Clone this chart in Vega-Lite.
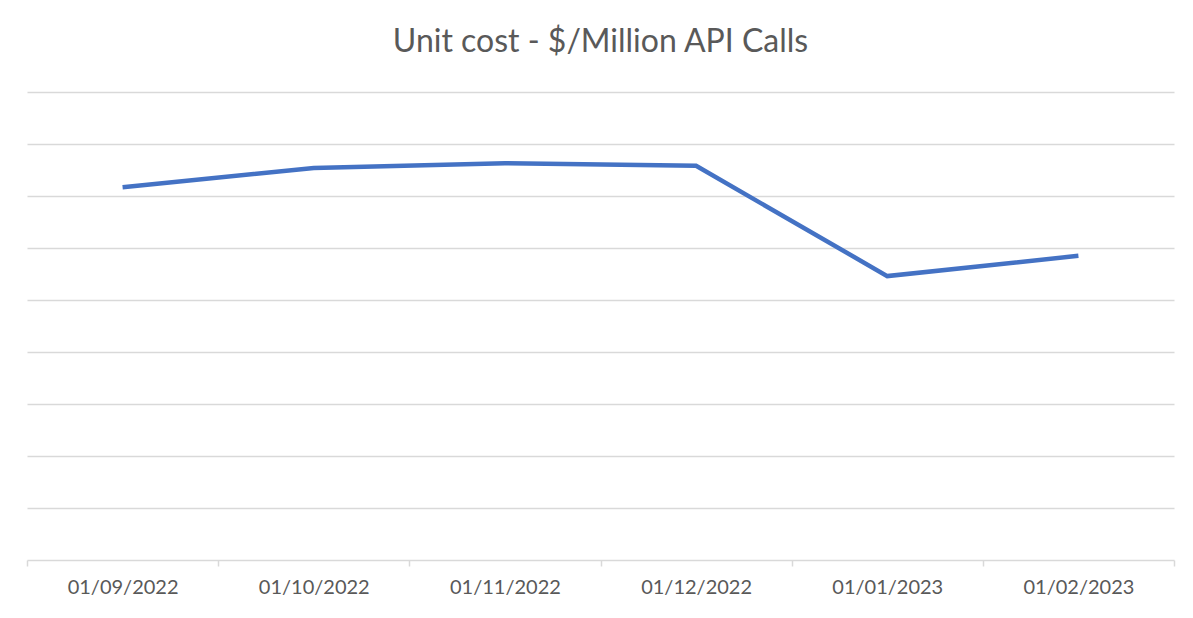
{
  "$schema": "https://vega.github.io/schema/vega-lite/v6.json",
  "width": 1147,
  "height": 468,
  "autosize": "none",
  "padding": {"left": 27, "top": 92, "right": 19, "bottom": 58},
  "background": "white",
  "config": {"view": {"stroke": null}, "font": "Lato"},
  "title": {
    "text": "Unit cost - $/Million API Calls",
    "fontSize": 32,
    "font": "Lato",
    "fontWeight": "normal",
    "color": "#595959",
    "anchor": "middle",
    "offset": 33
  },
  "data": {
    "values": [
      {"date": "01/09/2022", "cost": 7.17},
      {"date": "01/10/2022", "cost": 7.54},
      {"date": "01/11/2022", "cost": 7.63},
      {"date": "01/12/2022", "cost": 7.58},
      {"date": "01/01/2023", "cost": 5.46},
      {"date": "01/02/2023", "cost": 5.85}
    ]
  },
  "mark": {"type": "line", "color": "#4472C4", "strokeWidth": 4.5, "strokeJoin": "miter"},
  "encoding": {
    "x": {
      "field": "date",
      "type": "nominal",
      "sort": null,
      "scale": {"type": "band", "paddingInner": 0, "paddingOuter": 0},
      "axis": {
        "title": null,
        "labelAngle": 0,
        "labelFontSize": 20,
        "labelColor": "#595959",
        "labelPadding": 11,
        "domainColor": "#d9d9d9",
        "domainWidth": 1.5,
        "tickColor": "#d9d9d9",
        "tickWidth": 1.5,
        "tickSize": 6,
        "tickBand": "extent",
        "grid": false
      }
    },
    "y": {
      "field": "cost",
      "type": "quantitative",
      "scale": {"domain": [0, 9], "nice": false},
      "axis": {
        "title": null,
        "labels": false,
        "ticks": false,
        "domain": false,
        "values": [1, 2, 3, 4, 5, 6, 7, 8, 9],
        "grid": true,
        "gridColor": "#d9d9d9",
        "gridWidth": 1.5
      }
    }
  }
}
